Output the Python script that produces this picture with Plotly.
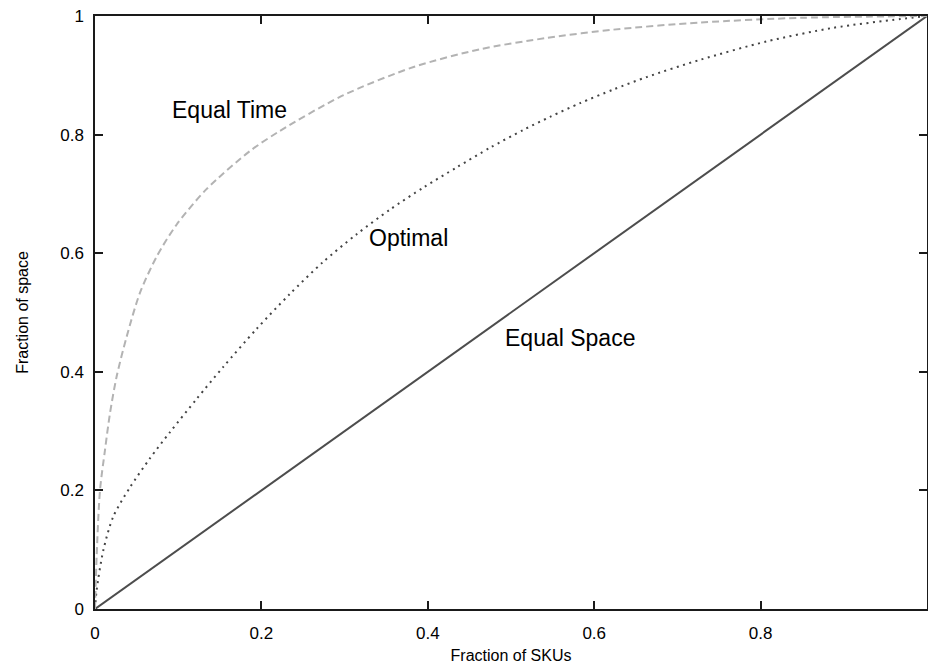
import plotly.graph_objects as go

# ---- data ----
equal_space_x = [0.0, 1.0]
equal_space_y = [0.0, 1.0]

optimal_x = [0.0, 0.002, 0.010, 0.022, 0.042, 0.066, 0.090, 0.122, 0.154, 0.194,
             0.234, 0.274, 0.3145, 0.355, 0.395, 0.435, 0.475, 0.515, 0.547, 0.583,
             0.623, 0.663, 0.727, 0.807, 0.887, 0.968, 1.0]
optimal_y = [0.0, 0.032, 0.099, 0.156, 0.205, 0.254, 0.298, 0.354, 0.408, 0.472,
             0.531, 0.585, 0.632, 0.674, 0.711, 0.745, 0.778, 0.808, 0.830, 0.853,
             0.876, 0.897, 0.926, 0.957, 0.980, 0.995, 1.0]

equal_time_x = [0.0, 0.002, 0.006, 0.012, 0.018, 0.026, 0.038, 0.054, 0.074, 0.098,
                0.134, 0.186, 0.222, 0.298, 0.383, 0.463, 0.543, 0.623, 0.727,
                0.85, 1.0]
equal_time_y = [0.0, 0.09, 0.20, 0.268, 0.330, 0.392, 0.459, 0.533, 0.594, 0.648,
                0.708, 0.772, 0.806, 0.866, 0.914, 0.944, 0.963, 0.977, 0.989,
                0.997, 1.0]

tick_vals = [0, 0.2, 0.4, 0.6, 0.8, 1]
x_tick_text = ["0", "0.2", "0.4", "0.6", "0.8", "1"]
y_tick_text = ["0", "0.2", "0.4", "0.6", "0.8", "1"]

labels = ["Equal Time", "Optimal", "Equal Space"]
label_x = [0.162, 0.377, 0.5705]
label_y = [0.841, 0.626, 0.457]

x_title = "Fraction of SKUs"
y_title = "Fraction of space"

FONT = "Liberation Sans, Arial, Helvetica, sans-serif"

fig = go.Figure()
fig.add_trace(go.Scatter(x=equal_space_x, y=equal_space_y, mode="lines",
                         line=dict(color="#4d4d4d", width=2), showlegend=False))
fig.add_trace(go.Scatter(x=optimal_x, y=optimal_y, mode="lines",
                         line=dict(color="#444444", width=2, dash="2px,4.5px",
                                   shape="spline", smoothing=0.8),
                         showlegend=False))
fig.add_trace(go.Scatter(x=equal_time_x, y=equal_time_y, mode="lines",
                         line=dict(color="#b3b3b3", width=2, dash="7px,4px",
                                   shape="spline", smoothing=0.8),
                         showlegend=False))

for t, lx, ly in zip(labels, label_x, label_y):
    fig.add_annotation(x=lx, y=ly, xref="x", yref="y", text=t, showarrow=False,
                       xanchor="center", yanchor="middle",
                       font=dict(family=FONT, size=23, color="#000000"))

axis_common = dict(
    range=[0, 1], showgrid=False, zeroline=False, showline=True,
    linecolor="#1a1a1a", linewidth=1.5, mirror="ticks",
    ticks="inside", ticklen=8, tickwidth=1.5, tickcolor="#1a1a1a",
    tickvals=tick_vals, tickfont=dict(family=FONT, size=17, color="#000000"),
)

fig.update_xaxes(**axis_common, ticktext=x_tick_text, ticklabelstandoff=8,
                 title=dict(text=x_title, standoff=11,
                            font=dict(family=FONT, size=16, color="#000000")))
fig.update_yaxes(**axis_common, ticktext=y_tick_text, ticklabelstandoff=6,
                 title=dict(text=y_title, standoff=28,
                            font=dict(family=FONT, size=16, color="#000000")))

fig.update_layout(
    width=928, height=664,
    margin=dict(l=95, r=1, t=16, b=55, autoexpand=False),
    plot_bgcolor="white", paper_bgcolor="white",
    font=dict(family=FONT),
)

fig.write_html(
    "out.html",
    config={"responsive": False, "displayModeBar": False},
    post_script="document.body.style.margin='0';document.body.style.overflow='hidden';",
)
